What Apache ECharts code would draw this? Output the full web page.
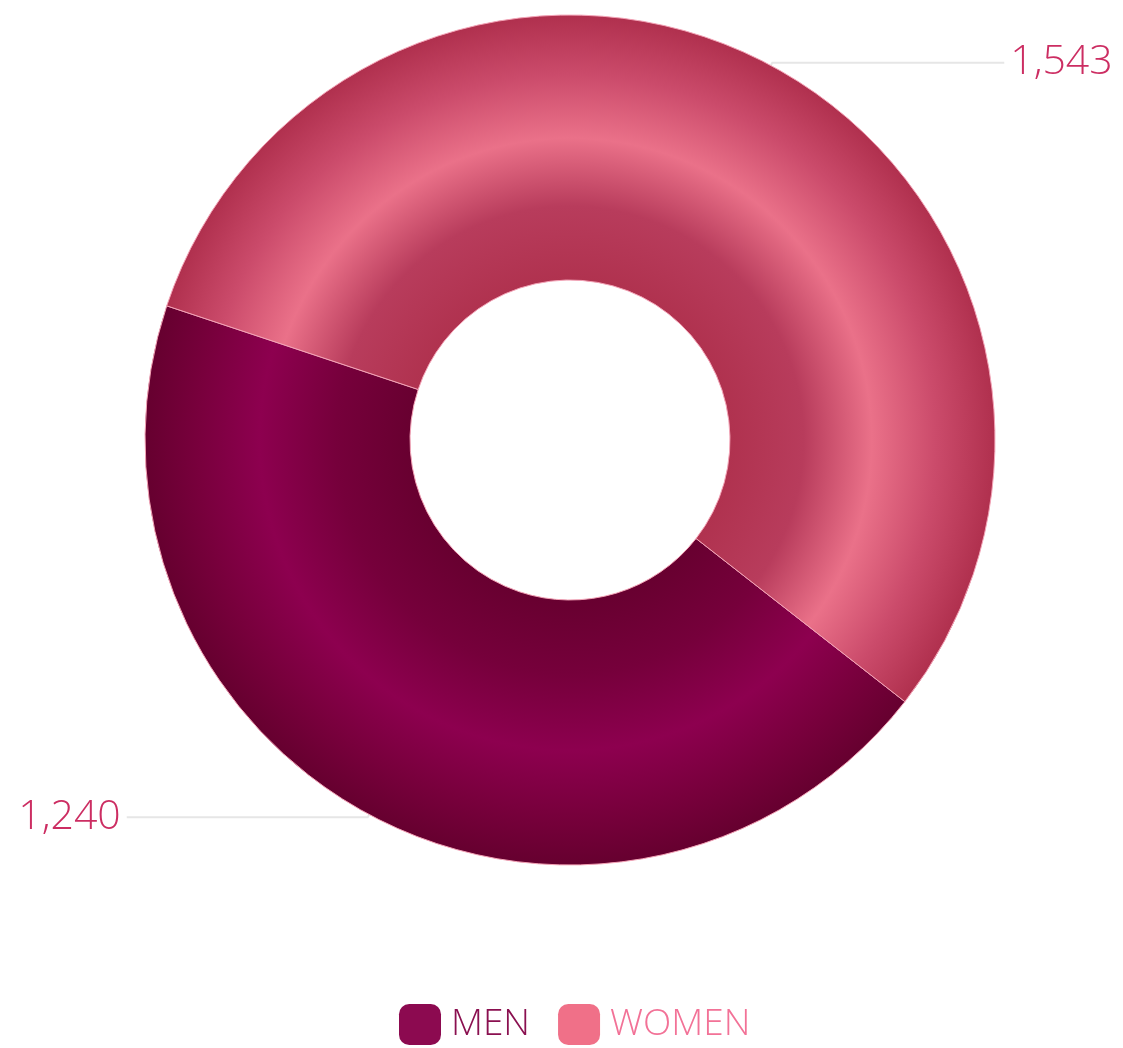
<!DOCTYPE html>
<html>
<head>
<meta charset="utf-8">
<script src="https://cdn.jsdelivr.net/npm/echarts@6/dist/echarts.min.js"></script>
<style>html,body{margin:0;padding:0;background:#fff}#c{width:1123px;height:1048px}</style>
</head>
<body>
<div id="c"></div>
<script>
const categories = ['MEN', 'WOMEN'];
const values = [1240, 1543];
const legendColors = ['#8c0a50', '#f07088'];
const legendTextColors = ['#8a1050', '#f27297'];

const W = 1123, H = 1048;
const cx = 570, cy = 440, rOut = 425, rIn = 160;
const lineLen2 = [241, 232];

function grad(stops) {
  return { type: 'radial', x: cx, y: cy, r: rOut, global: true,
    colorStops: stops.map(s => ({ offset: s[0], color: s[1] })) };
}
const fills = [
  grad([[0, '#680030'], [0.376, '#680030'], [0.55, '#76003b'], [0.73, '#8d004f'], [0.88, '#78003c'], [1, '#66002f']]),
  grad([[0, '#ab2b4b'], [0.376, '#b0324f'], [0.55, '#b83c5c'], [0.71, '#ea7189'], [0.86, '#cb4b6b'], [1, '#b0304e']])
];

const chart = echarts.init(document.getElementById('c'), null, { renderer: 'canvas' });
chart.setOption({
  backgroundColor: '#ffffff',
  animation: false,
  legend: {
    top: 1004,
    left: 399,
    padding: 0,
    icon: 'roundRect',
    itemWidth: 42,
    itemHeight: 41,
    itemGap: 28,
    itemStyle: { borderWidth: 0 },
    textStyle: { fontFamily: 'Open Sans', fontWeight: 300, fontSize: 37, padding: [0, 0, 0, 5] },
    data: categories.map((c, i) => ({ name: c, itemStyle: { color: legendColors[i], borderWidth: 0 }, textStyle: { color: legendTextColors[i] } }))
  },
  series: [{
    type: 'pie',
    center: [cx, cy],
    radius: [rIn, rOut],
    startAngle: -38,
    clockwise: true,
    avoidLabelOverlap: false,
    itemStyle: { borderColor: '#f3a3b6', borderWidth: 1 },
    label: {
      show: true,
      position: 'outside',
      alignTo: 'none',
      distanceToLabelLine: 6,
      formatter: p => p.value.toLocaleString('en-US'),
      color: '#cc2d62',
      fontFamily: 'Open Sans',
      fontWeight: 300,
      fontSize: 41
    },
    labelLine: { show: true, length: 3, length2: 238, lineStyle: { color: '#e6e6e6', width: 2 } },
    data: categories.map((c, i) => ({ name: c, value: values[i], itemStyle: { color: fills[i] }, labelLine: { length2: lineLen2[i] } }))
  }]
});
</script>
</body>
</html>
